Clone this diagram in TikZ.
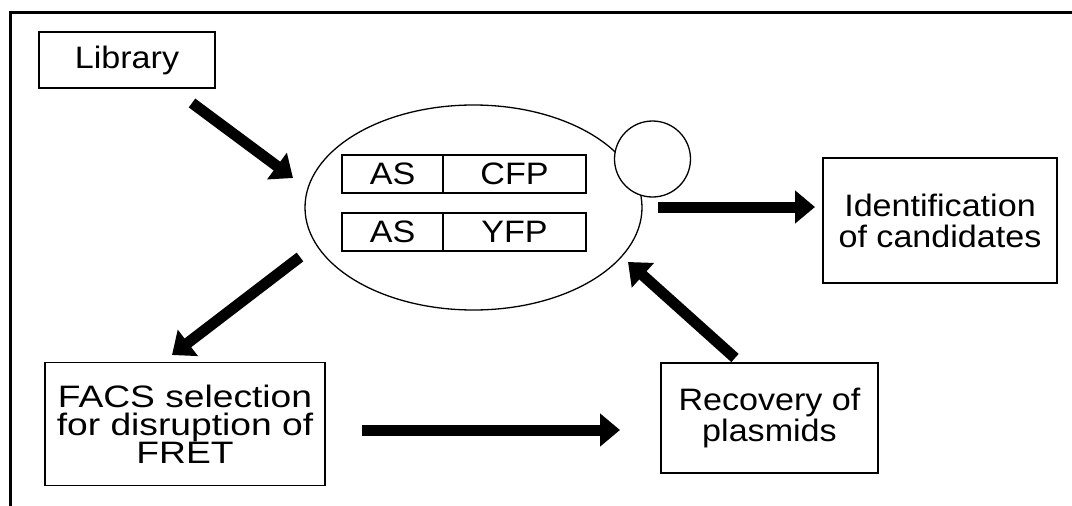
\documentclass[tikz,border=0pt]{standalone}
\usepackage{fontspec}
\setmainfont{Liberation Sans}[FakeStretch=1.1]
\newfontfamily\widesans{Liberation Sans}[FakeStretch=1.2]
\usetikzlibrary{arrows.meta,positioning,shapes.geometric}

\begin{document}
\begin{tikzpicture}[x=1pt,y=-1pt,
    box/.style={draw,line width=1.3pt,rectangle,inner sep=0pt,outer sep=0pt,align=center},
    part/.style={box,minimum height=38pt},
    fat/.style={line width=11pt,-{Triangle[length=20pt,width=32pt]}},
    font=\fontsize{31}{31}\selectfont]
        \useasboundingbox (0,0) rectangle (1072,506);
        % frame
        \draw[line width=3pt] (10,506) -- (10,12) -- (1072,12);
        % cell
        \node[draw,ellipse,line width=1.3pt,minimum width=337pt,minimum height=205pt,inner sep=0pt] (cell) at (473.5,207.5) {};
        \node[draw,circle,line width=1.3pt,fill=white,minimum size=76pt,inner sep=0pt] (bud) at (652.5,159) {};
        \node[part,minimum width=101pt] (as1) at (392.5,174) {AS};
        \node[part,minimum width=143pt,right=0pt of as1] (cfp) {CFP};
        \node[part,minimum width=101pt] (as2) at (392.5,232) {AS};
        \node[part,minimum width=143pt,right=0pt of as2] (yfp) {YFP};
        % steps
        \node[box,minimum width=176pt,minimum height=56pt] (lib) at (127,60) {Library};
        \node[box,minimum width=234pt,minimum height=125pt] (ident) at (940,220.5) {Identification\\of candidates};
        \node[box,minimum width=280pt,minimum height=123pt,font=\widesans\fontsize{31}{28}\selectfont] (facs) at (185,424) {FACS selection\\for disruption of\\FRET};
        \node[box,minimum width=217pt,minimum height=110pt] (recov) at (769.5,418) {Recovery of\\plasmids};
        % arrow ends
        \coordinate (libout) at (192,103);   \coordinate (cellin) at (293,178);
        \coordinate (cellr)  at (658,207);   \coordinate (identin) at (815,207);
        \coordinate (celll)  at (300,257);   \coordinate (facsin) at (172,355);
        \coordinate (facsout) at (362,430);  \coordinate (recovin) at (620,430);
        \coordinate (recovout) at (735,358); \coordinate (cellb) at (628,262);
        \draw[fat] (libout) -- (cellin);
        \draw[fat] (cellr) -- (identin);
        \draw[fat] (celll) -- (facsin);
        \draw[fat] (facsout) -- (recovin);
        \draw[fat] (recovout) -- (cellb);
\end{tikzpicture}
\end{document}
